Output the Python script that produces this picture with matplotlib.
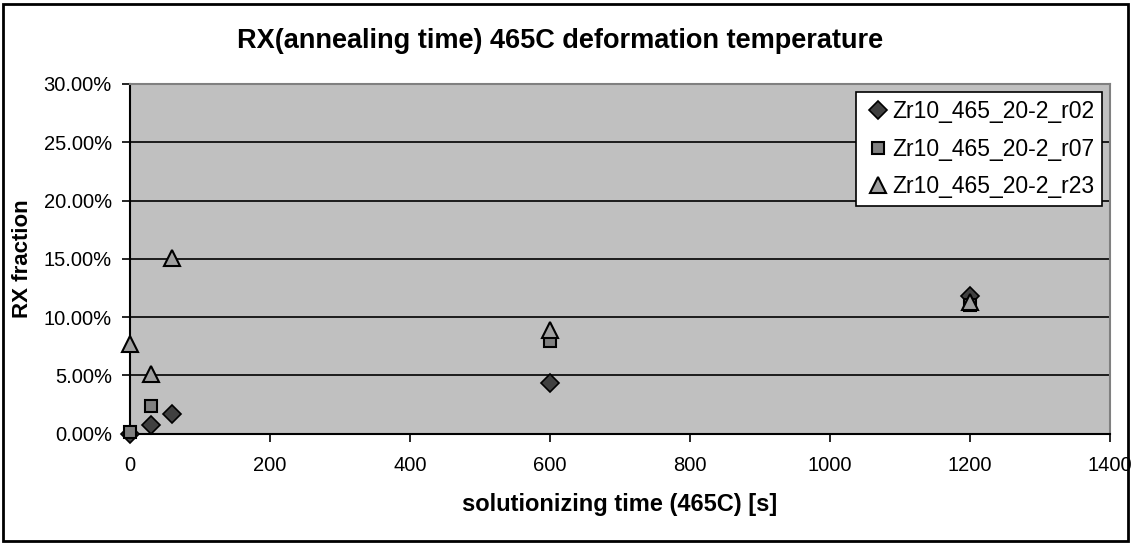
import matplotlib
matplotlib.use("Agg")
from matplotlib import pyplot as plt
from matplotlib.patches import Rectangle
from matplotlib.ticker import FuncFormatter

plt.rcParams['font.family'] = ['Liberation Sans', 'DejaVu Sans']

# annealing times [s] and RX fractions [%]
t_r02 = [0, 30, 60, 600, 1200]
rx_r02 = [0.0, 0.75, 1.7, 4.3, 11.8]
t_r07 = [0, 30, 600, 1200]
rx_r07 = [0.1, 2.4, 7.9, 11.0]
t_r23 = [0, 30, 60, 600, 1200]
rx_r23 = [7.7, 5.1, 15.1, 8.9, 11.3]
labels = ['Zr10_465_20-2_r02', 'Zr10_465_20-2_r07', 'Zr10_465_20-2_r23']

fig = plt.figure(figsize=(11.33, 5.44), dpi=100)
ax = fig.add_axes([0.1147, 0.2031, 0.9797 - 0.1147, 0.8456 - 0.2031])
ax.set_facecolor('#C0C0C0')

for y in range(5, 30, 5):
    ax.axhline(y, color='black', lw=1.2, zorder=1)

ax.plot(t_r02, rx_r02, ls='none', marker='D', ms=9, mfc='#404040', mec='black', mew=1.2,
        label=labels[0], zorder=3, clip_on=False)
ax.plot(t_r07, rx_r07, ls='none', marker='s', ms=9, mfc='#808080', mec='black', mew=1.5,
        label=labels[1], zorder=3, clip_on=False)
ax.plot(t_r23, rx_r23, ls='none', marker='^', ms=11, mfc='#A0A0A0', mec='black', mew=1.5,
        label=labels[2], zorder=3, clip_on=False)

ax.set_xlim(0, 1400)
ax.set_ylim(0, 30)
ax.set_xticks(range(0, 1401, 200))
ax.set_yticks(range(0, 31, 5))
ax.yaxis.set_major_formatter(FuncFormatter(lambda v, p: '%.2f%%' % v))
ax.tick_params(labelsize=14.5, length=6, width=1.2, color='black', pad=7)
ax.tick_params(axis='x', pad=10)

ax.spines['left'].set_linewidth(1.5)
ax.spines['bottom'].set_linewidth(1.5)
ax.spines['top'].set_color('#808080')
ax.spines['right'].set_color('#808080')
ax.spines['top'].set_linewidth(1.5)
ax.spines['right'].set_linewidth(1.5)

ax.set_xlabel('solutionizing time (465C) [s]', fontsize=17, fontweight='bold', labelpad=13)
ax.set_ylabel('RX fraction', fontsize=16, fontweight='bold', labelpad=8)
fig.text(0.494, 0.925, 'RX(annealing time) 465C deformation temperature',
         ha='center', va='center', fontsize=19.5, fontweight='bold')

leg = ax.legend(loc='upper right', bbox_to_anchor=(0.9918, 0.977), fontsize=16.5,
                fancybox=False, framealpha=1, edgecolor='black', borderpad=0.35,
                handletextpad=0.0, handlelength=1.2, labelspacing=0.64, borderaxespad=0)
leg.get_frame().set_linewidth(1.2)

fig.patches.append(Rectangle((3 / 1133, 3 / 544), 1125 / 1133, 537 / 544, transform=fig.transFigure,
                             fill=False, edgecolor='black', lw=2))

fig.savefig('out.png', dpi=100)
